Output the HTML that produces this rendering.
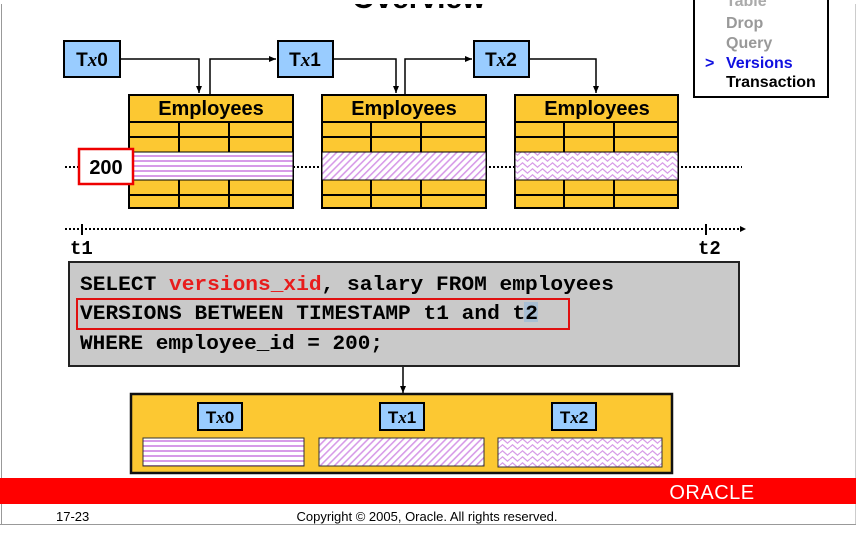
<!DOCTYPE html>
<html><head><meta charset="utf-8"><style>
body{margin:0;background:#fff;}
svg{display:block;}
</style></head><body>
<svg width="861" height="541" viewBox="0 0 861 541" xmlns="http://www.w3.org/2000/svg" font-family="Liberation Sans, Arial, sans-serif">
<defs>
<pattern id="hs" width="8" height="5" patternUnits="userSpaceOnUse"><rect width="8" height="5" fill="#fff"/><rect y="0" width="8" height="2" fill="#d79be8"/></pattern>
<pattern id="dg" width="5" height="5" patternUnits="userSpaceOnUse" patternTransform="rotate(45)"><rect width="5" height="5" fill="#fff"/><rect width="1.6" height="5" fill="#d79be8"/></pattern>
<pattern id="wv" width="10" height="6" patternUnits="userSpaceOnUse"><rect width="10" height="6" fill="#fff"/><path d="M0 3 L2.5 0.8 L5 3 L7.5 5.2 L10 3" fill="none" stroke="#d79be8" stroke-width="1.2"/></pattern>
<marker id="ah" markerWidth="8" markerHeight="8" refX="7" refY="4" orient="auto" markerUnits="userSpaceOnUse"><path d="M0 1 L7 4 L0 7z" fill="#000"/></marker>
</defs>
<rect width="861" height="541" fill="#fff"/>
<line x1="1.5" y1="0" x2="1.5" y2="525" stroke="#999"/>
<line x1="855.5" y1="0" x2="855.5" y2="525" stroke="#ccc"/>
<line x1="0" y1="524.5" x2="856" y2="524.5" stroke="#999"/>
<text x="352" y="8" font-size="30" font-weight="bold">Overview</text>
<rect x="0" y="0" width="861" height="4" fill="#fff"/>
<!-- menu -->
<rect x="694" y="-2" width="134" height="99" fill="#fff" stroke="#000" stroke-width="2"/>
<g font-size="16" font-weight="bold">
<text x="726" y="6" fill="#aaa">Table</text>
<text x="726" y="28" fill="#999">Drop</text>
<text x="726" y="48" fill="#999">Query</text>
<text x="705" y="68" fill="#1010e0">&gt;</text>
<text x="726" y="68" fill="#1010e0">Versions</text>
<text x="726" y="87" fill="#000">Transaction</text>
</g>
<!-- connectors -->
<g fill="none" stroke="#000" stroke-width="1.5">
<path d="M120 59 H199 V93" marker-end="url(#ah)"/>
<path d="M210 94 V59 H276" marker-end="url(#ah)"/>
<path d="M333 59 H396 V93" marker-end="url(#ah)"/>
<path d="M405 94 V59 H472" marker-end="url(#ah)"/>
<path d="M529 59 H596 V93" marker-end="url(#ah)"/>
<path d="M403 367 V393" marker-end="url(#ah)"/>
</g>
<!-- Tx boxes -->
<g font-size="19" font-weight="bold">
<rect x="64" y="41" width="56" height="36" fill="#99ccff" stroke="#000" stroke-width="2"/>
<text x="92" y="66" text-anchor="middle">T<tspan font-family="Liberation Serif" font-style="italic">x</tspan>0</text>
<rect x="278" y="41" width="55" height="36" fill="#99ccff" stroke="#000" stroke-width="2"/>
<text x="305" y="66" text-anchor="middle">T<tspan font-family="Liberation Serif" font-style="italic">x</tspan>1</text>
<rect x="474" y="41" width="55" height="36" fill="#99ccff" stroke="#000" stroke-width="2"/>
<text x="501" y="66" text-anchor="middle">T<tspan font-family="Liberation Serif" font-style="italic">x</tspan>2</text>
</g>
<!-- dotted lines -->
<line x1="65" y1="167" x2="742" y2="167" stroke="#000" stroke-width="2" stroke-dasharray="2 2"/>
<!-- tables -->
<g stroke="#000" stroke-width="2">
<rect x="129" y="95" width="164" height="113" fill="#fcc832"/>
<line x1="129" y1="122" x2="293" y2="122"/>
<line x1="129" y1="137" x2="293" y2="137"/>
<line x1="129" y1="195" x2="293" y2="195"/>
<line x1="179" y1="122" x2="179" y2="208"/>
<line x1="229" y1="122" x2="229" y2="208"/>
<rect x="129" y="152" width="164" height="28" fill="url(#hs)" stroke="#000" stroke-width="1"/>
<rect x="322" y="95" width="164" height="113" fill="#fcc832"/>
<line x1="322" y1="122" x2="486" y2="122"/>
<line x1="322" y1="137" x2="486" y2="137"/>
<line x1="322" y1="195" x2="486" y2="195"/>
<line x1="371" y1="122" x2="371" y2="208"/>
<line x1="421" y1="122" x2="421" y2="208"/>
<rect x="322" y="152" width="164" height="28" fill="url(#dg)" stroke="#000" stroke-width="1"/>
<rect x="515" y="95" width="163" height="113" fill="#fcc832"/>
<line x1="515" y1="122" x2="678" y2="122"/>
<line x1="515" y1="137" x2="678" y2="137"/>
<line x1="515" y1="195" x2="678" y2="195"/>
<line x1="564" y1="122" x2="564" y2="208"/>
<line x1="614" y1="122" x2="614" y2="208"/>
<rect x="515" y="152" width="163" height="28" fill="url(#wv)" stroke="#000" stroke-width="1"/>
</g>
<g font-size="20" font-weight="bold" text-anchor="middle">
<text x="211" y="115">Employees</text>
<text x="404" y="115">Employees</text>
<text x="597" y="115">Employees</text>
</g>
<rect x="79" y="149" width="54" height="35" fill="#fff" stroke="#e00" stroke-width="2.5"/>
<text x="106" y="174" font-size="20" font-weight="bold" text-anchor="middle">200</text>
<!-- timeline -->
<line x1="65" y1="229" x2="740" y2="229" stroke="#000" stroke-width="2" stroke-dasharray="2 2"/>
<path d="M740 226 L746 229 L740 232z"/>
<line x1="82" y1="224" x2="82" y2="235" stroke="#000" stroke-width="2"/>
<line x1="706" y1="224" x2="706" y2="235" stroke="#000" stroke-width="2"/>
<g font-family="Liberation Mono, monospace" font-size="19" font-weight="bold">
<text x="70" y="254">t1</text>
<text x="698" y="254">t2</text>
</g>
<!-- SQL box -->
<rect x="69" y="262" width="670" height="104" fill="#c9c9c9" stroke="#222" stroke-width="2"/>
<rect x="77" y="299" width="492" height="30" fill="none" stroke="#e01010" stroke-width="2"/>
<rect x="524" y="302" width="14" height="20" fill="#a9bfd3"/>
<g font-family="Liberation Mono, monospace" font-size="20" font-weight="bold">
<text x="80" y="290" textLength="534" lengthAdjust="spacingAndGlyphs">SELECT <tspan fill="#e81c1c">versions_xid</tspan>, salary FROM employees</text>
<text x="80" y="319" textLength="458" lengthAdjust="spacingAndGlyphs">VERSIONS BETWEEN TIMESTAMP t1 and t2</text>
<text x="80" y="349" textLength="303" lengthAdjust="spacingAndGlyphs">WHERE employee_id = 200;</text>
</g>
<!-- result box -->
<rect x="131" y="394" width="541" height="79" fill="#fcc832" stroke="#111" stroke-width="2.5"/>
<g font-size="17" font-weight="bold">
<rect x="198" y="403" width="44" height="27" fill="#99ccff" stroke="#000" stroke-width="2"/>
<text x="220" y="423" text-anchor="middle">T<tspan font-family="Liberation Serif" font-style="italic">x</tspan>0</text>
<rect x="380" y="403" width="44" height="27" fill="#99ccff" stroke="#000" stroke-width="2"/>
<text x="402" y="423" text-anchor="middle">T<tspan font-family="Liberation Serif" font-style="italic">x</tspan>1</text>
<rect x="552" y="403" width="44" height="27" fill="#99ccff" stroke="#000" stroke-width="2"/>
<text x="574" y="423" text-anchor="middle">T<tspan font-family="Liberation Serif" font-style="italic">x</tspan>2</text>
</g>
<rect x="143" y="438" width="161" height="28" fill="url(#hs)" stroke="#333" stroke-width="1"/>
<rect x="319" y="438" width="165" height="28" fill="url(#dg)" stroke="#333" stroke-width="1"/>
<rect x="498" y="438" width="164" height="29" fill="url(#wv)" stroke="#333" stroke-width="1"/>
<!-- footer -->
<rect x="0" y="478" width="856" height="26" fill="#ff0000"/>
<text x="712" y="499" font-size="20" fill="#fff" text-anchor="middle" letter-spacing="0.5">ORACLE</text>
<text x="56" y="521" font-size="13">17-23</text>
<text x="427" y="521" font-size="13" text-anchor="middle">Copyright © 2005, Oracle.  All rights reserved.</text>
</svg>
</body></html>
